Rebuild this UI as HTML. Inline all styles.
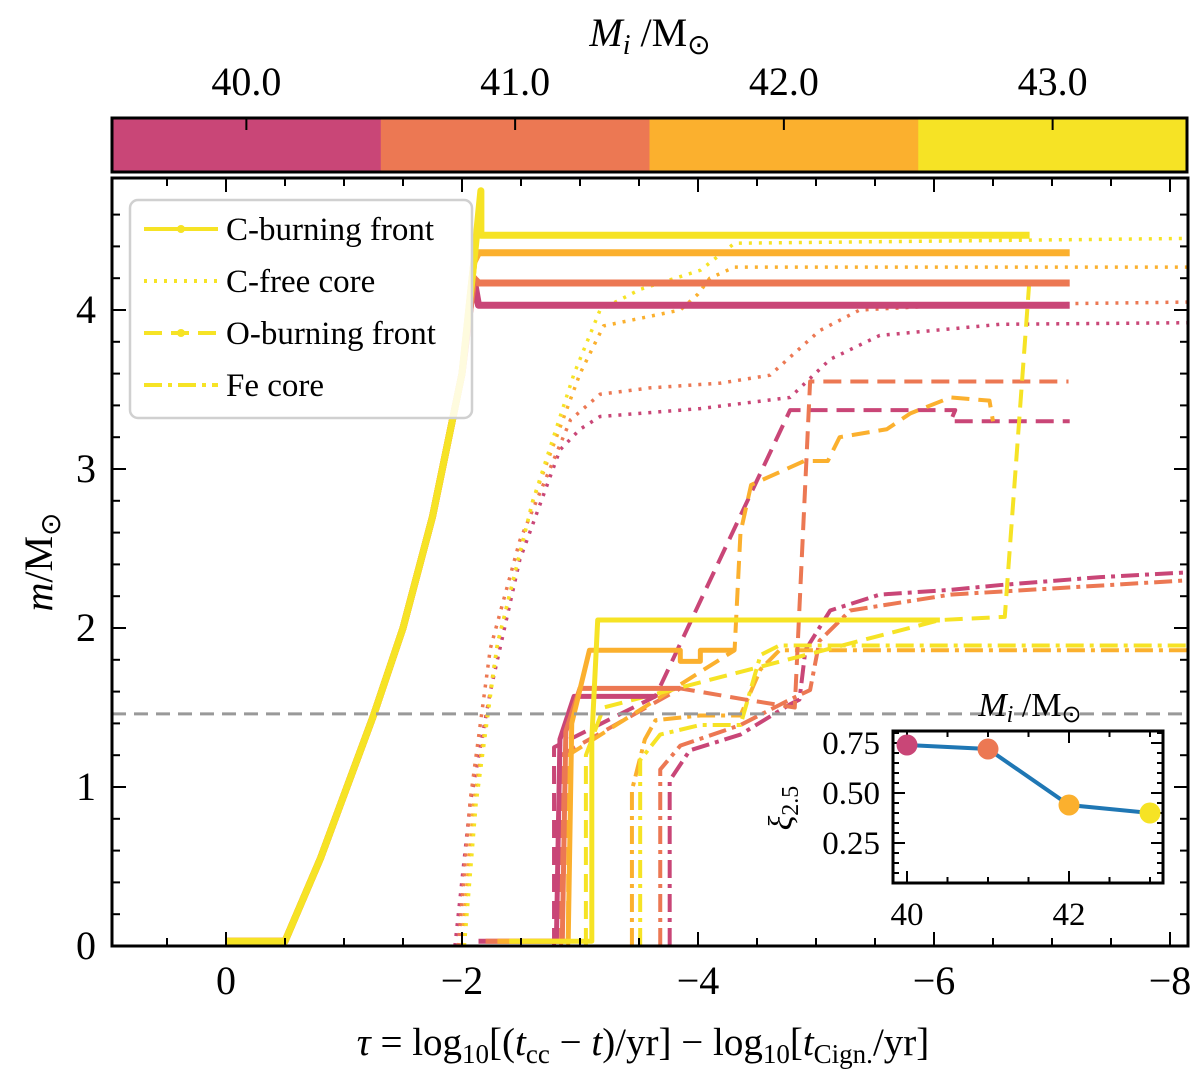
<!DOCTYPE html>
<html><head><meta charset="utf-8"><style>
html,body{margin:0;padding:0;background:#fff;}
svg{display:block;font-family:"Liberation Serif",serif;}
</style></head><body>
<svg id="chart" width="1200" height="1080" viewBox="0 0 1200 1080" xmlns="http://www.w3.org/2000/svg">
<g id="cbar"></g>
<g id="plot"></g>
<g id="inset"></g>
</svg>
<script>
const masses = [40, 41, 42, 43];
const colors = ["#c94677", "#ec7853", "#fbb02e", "#f6e325"];
const xTicks = [0, 2, 4, 6, 8];
const xTickLabels = ["0", "\u22122", "\u22124", "\u22126", "\u22128"];
const yTicks = [0, 1, 2, 3, 4];
const xiValues = [0.74, 0.72, 0.44, 0.40];
const xiTicks = [0.25, 0.5, 0.75];
const xiTickLabels = ["0.25", "0.50", "0.75"];
const insetXTicks = [40, 42];
const compactness = 1.46;

// series in data units: [ -tau, m ]
const cBurn = [
 [[0,0.03],[0.5,0.03],[0.8,0.55],[1.0,0.95],[1.25,1.45],[1.5,2.0],[1.75,2.7],[2.0,3.6],[2.1,4.2],[2.14,4.03],[7.15,4.03]],
 [[0,0.03],[0.5,0.03],[0.8,0.55],[1.0,0.95],[1.25,1.45],[1.5,2.0],[1.75,2.7],[2.0,3.6],[2.1,4.2],[2.14,4.17],[7.15,4.17]],
 [[0,0.03],[0.5,0.03],[0.8,0.55],[1.0,0.95],[1.25,1.45],[1.5,2.0],[1.75,2.7],[2.0,3.6],[2.1,4.3],[2.14,4.36],[7.15,4.36]],
 [[0,0.03],[0.5,0.03],[0.8,0.55],[1.0,0.95],[1.25,1.45],[1.5,2.0],[1.75,2.7],[2.0,3.6],[2.1,4.3],[2.16,4.75],[2.16,4.47],[6.81,4.47]]
];
const cBurn2 = [
 [[2.14,0.03],[2.8,0.03],[2.83,1.3],[2.95,1.57],[3.64,1.57]],
 [[2.2,0.03],[2.85,0.03],[2.88,1.35],[3.0,1.62],[3.85,1.62]],
 [[2.3,0.03],[2.9,0.03],[2.93,1.4],[3.08,1.86],[3.85,1.86],[3.85,1.79],[4.02,1.79],[4.02,1.86],[4.31,1.86]],
 [[2.4,0.03],[3.1,0.03],[3.1,1.3],[3.15,2.05],[6.05,2.05]]
];
const cFree = [
 [[1.94,0],[2.07,0.9],[2.24,1.6],[2.49,2.43],[2.83,3.12],[3.0,3.25],[3.17,3.33],[4.02,3.38],[4.78,3.45],[5.12,3.69],[5.54,3.84],[6.56,3.91],[8.15,3.92]],
 [[1.97,0],[2.07,0.92],[2.24,1.87],[2.49,2.55],[2.92,3.31],[3.17,3.47],[3.59,3.51],[4.19,3.54],[4.61,3.59],[5.03,3.87],[5.37,4.0],[6.14,4.03],[8.15,4.05]],
 [[2.0,0],[2.1,0.9],[2.3,1.9],[2.6,2.8],[3.0,3.6],[3.2,3.9],[3.85,4.0],[4.0,4.1],[4.1,4.2],[4.31,4.27],[8.15,4.27]],
 [[2.02,0],[2.12,0.9],[2.3,1.9],[2.6,2.8],[2.95,3.6],[3.17,4.0],[3.51,4.13],[4.02,4.25],[4.31,4.42],[8.15,4.45]]
];
const oBurn = [
 [[2.78,0],[2.78,1.25],[3.64,1.57],[4.78,3.37],[6.18,3.37],[6.14,3.3],[7.15,3.3]],
 [[2.84,0],[2.84,1.2],[3.85,1.62],[4.4,1.55],[4.82,1.5],[4.95,3.55],[7.14,3.55]],
 [[2.9,0],[2.9,1.2],[4.31,1.86],[4.36,2.6],[4.45,2.9],[4.6,2.95],[4.9,3.05],[5.1,3.05],[5.2,3.2],[5.6,3.25],[5.8,3.35],[6.14,3.45],[6.47,3.43],[6.5,3.3]],
 [[3.05,0],[3.05,1.2],[3.2,1.5],[6.05,2.05],[6.6,2.07],[6.81,4.2]]
];
const feCore = [
 [[3.76,0],[3.76,1.04],[3.93,1.23],[4.36,1.33],[4.78,1.52],[4.86,1.55],[4.91,1.86],[5.12,2.11],[5.54,2.21],[6.14,2.24],[6.56,2.27],[7.41,2.32],[8.15,2.35]],
 [[3.68,0],[3.68,1.11],[3.85,1.26],[4.36,1.39],[4.78,1.55],[4.95,1.61],[5.03,1.92],[5.29,2.11],[6.14,2.21],[8.15,2.3]],
 [[3.44,0],[3.44,0.98],[3.55,1.3],[3.64,1.42],[4.02,1.45],[4.36,1.45],[4.53,1.74],[4.69,1.86],[8.15,1.86]],
 [[3.51,0],[3.51,1.17],[3.68,1.33],[4.02,1.39],[4.36,1.39],[4.53,1.83],[4.69,1.89],[8.15,1.89]]
];

const NS = "http://www.w3.org/2000/svg";
function mk(tag, attrs, parent){const e=document.createElementNS(NS,tag);for(const k in attrs)e.setAttribute(k,attrs[k]);parent.appendChild(e);return e;}
const L=112,R=1188,T=178,B=946;
const xs=v=>226+118*v;
const ys=v=>946-159*v;
const plot=document.getElementById('plot');
const cp=mk('clipPath',{id:'clip'},plot);mk('rect',{x:L,y:T,width:R-L,height:B-T},cp);
const lines=mk('g',{'clip-path':'url(#clip)'},plot);



function drawSet(set,dash,width,name){
 set.forEach((pts,i)=>{
  const p=mk('polyline',{points:pts.map(q=>xs(q[0])+','+ys(q[1])).join(' '),fill:'none',stroke:colors[i],'stroke-width':width,'stroke-dasharray':dash,'stroke-linejoin':'round'},lines);
  
  
 });
}
drawSet(cFree,'3,7',3.5,'c-free-core');
drawSet(feCore,'18,6,4,6',4,'fe-core');
drawSet(oBurn,'18,9',4,'o-burning-front');
drawSet(cBurn2,'none',5,'c-burning-front-late');
drawSet(cBurn,'none',7,'c-burning-front');

const gl=mk('line',{x1:L,x2:R,y1:ys(compactness),y2:ys(compactness),stroke:'#999','stroke-width':3,'stroke-dasharray':'14,8'},plot);



const fr=mk('rect',{x:L,y:T,width:R-L,height:B-T,fill:'none',stroke:'#000','stroke-width':3},plot);


for(let v=-0.5;v<=8.2;v+=0.5){const x=xs(v);if(x<L||x>R)continue;const maj=Math.abs(v%2)<1e-6;const len=maj?14:8;
 mk('line',{x1:x,x2:x,y1:B,y2:B-len,stroke:'#000','stroke-width':2},plot);mk('line',{x1:x,x2:x,y1:T,y2:T+len,stroke:'#000','stroke-width':2},plot);}
for(let v=0;v<=4.8;v+=0.2){const y=ys(v);const maj=Math.abs(v-Math.round(v))<1e-6;const len=maj?14:8;
 mk('line',{x1:L,x2:L+len,y1:y,y2:y,stroke:'#000','stroke-width':2},plot);mk('line',{x1:R,x2:R-len,y1:y,y2:y,stroke:'#000','stroke-width':2},plot);}
xTicks.forEach((v,i)=>{const t=mk('text',{x:xs(v),y:994,'text-anchor':'middle','font-size':40},plot);t.textContent=xTickLabels[i];
 
 });
yTicks.forEach(v=>{const t=mk('text',{x:96,y:ys(v)+13,'text-anchor':'end','font-size':40},plot);t.textContent=String(v);
 
 });
</script>
<script>
(function(){
const NS="http://www.w3.org/2000/svg";
function mk(tag,attrs,parent){const e=document.createElementNS(NS,tag);for(const k in attrs)e.setAttribute(k,attrs[k]);parent.appendChild(e);return e;}
const plot=document.getElementById('plot');
const xl=mk('text',{x:643,y:1055,'text-anchor':'middle','font-size':39},plot);
xl.innerHTML='<tspan font-style="italic">τ</tspan> = log<tspan font-size="27" dy="8">10</tspan><tspan dy="-8">[(</tspan><tspan font-style="italic">t</tspan><tspan font-size="27" dy="8">cc</tspan><tspan dy="-8"> − </tspan><tspan font-style="italic">t</tspan>)/yr] − log<tspan font-size="27" dy="8">10</tspan><tspan dy="-8">[</tspan><tspan font-style="italic">t</tspan><tspan font-size="27" dy="8">Cign.</tspan><tspan dy="-8">/yr]</tspan>';


const yl=mk('text',{x:0,y:0,'text-anchor':'middle','font-size':40,transform:'translate(52,562) rotate(-90)'},plot);
yl.innerHTML='<tspan font-style="italic">m</tspan>/M<tspan font-size="28" dy="8">⊙</tspan>';



const lg=mk('g',{},plot);


mk('rect',{x:130,y:200,width:342,height:218,rx:8,fill:'rgba(255,255,255,0.85)',stroke:'#d0d0d0','stroke-width':2.5},lg);
const ent=[['C-burning front','none'],['C-free core','3,7'],['O-burning front','18,9'],['Fe core','18,6,4,6']];
ent.forEach((e,i)=>{const y=229+i*52;
 const g=mk('g',{},lg);
 
 
 mk('line',{x1:144,x2:218,y1:y,y2:y,stroke:'#f6e325','stroke-width':4,'stroke-dasharray':e[1]},g);
 if(i==0||i==2)mk('circle',{cx:181,cy:y,r:4,fill:'#f6e325'},g);
 const t=mk('text',{x:226,y:y+11,'font-size':33},g);t.textContent=e[0];});

const cb=document.getElementById('cbar');
for(let i=0;i<masses.length;i++){const w=(1187-112)/4;
 const r=mk('rect',{x:112+i*w,y:118,width:w+0.5,height:54,fill:colors[i]},cb);
 
 
 const cx=112+(i+0.5)*w;
 mk('line',{x1:cx,x2:cx,y1:118,y2:130,stroke:'#000','stroke-width':2},cb);
 const t=mk('text',{x:cx,y:95,'text-anchor':'middle','font-size':40},cb);t.textContent=masses[i].toFixed(1);
 
 }
mk('rect',{x:112,y:118,width:1075,height:54,fill:'none',stroke:'#000','stroke-width':3},cb);
const ct=mk('text',{x:650,y:46,'text-anchor':'middle','font-size':40},cb);
ct.innerHTML='<tspan font-style="italic">M</tspan><tspan font-style="italic" font-size="28" dy="8">i</tspan><tspan dy="-8"> /M</tspan><tspan font-size="28" dy="8">⊙</tspan>';



const ins=document.getElementById('inset');
const iL=893,iR=1163,iT=731,iB=883;
const ix=v=>907+81*(v-40), iy=v=>743-200*(v-0.75);
mk('rect',{x:iL,y:iT,width:iR-iL,height:iB-iT,fill:'#fff'},ins);
for(let v=40;v<=43.01;v+=0.5){const x=ix(v);const maj=Math.abs(v%2)<1e-6;const len=maj?12:6;
 mk('line',{x1:x,x2:x,y1:iB,y2:iB-len,stroke:'#000','stroke-width':2},ins);mk('line',{x1:x,x2:x,y1:iT,y2:iT+len,stroke:'#000','stroke-width':2},ins);}
for(let v=0.05;v<=0.81;v+=0.05){const y=iy(v);const maj=Math.abs((v*4)-Math.round(v*4))<1e-6;const len=maj?12:6;
 mk('line',{x1:iL,x2:iL+len,y1:y,y2:y,stroke:'#000','stroke-width':2},ins);mk('line',{x1:iR,x2:iR-len,y1:y,y2:y,stroke:'#000','stroke-width':2},ins);}
const pl=mk('polyline',{points:xiValues.map((v,i)=>ix(masses[i])+','+iy(v)).join(' '),fill:'none',stroke:'#1f77b4','stroke-width':4},ins);


xiValues.forEach((v,i)=>{const c=mk('circle',{cx:ix(masses[i]),cy:iy(v),r:10.5,fill:colors[i]},ins);
 
 });
mk('rect',{x:iL,y:iT,width:iR-iL,height:iB-iT,fill:'none',stroke:'#000','stroke-width':3},ins);
xiTicks.forEach((v,i)=>{const t=mk('text',{x:880,y:iy(v)+11,'text-anchor':'end','font-size':33},ins);t.textContent=xiTickLabels[i];
 
 });
insetXTicks.forEach(v=>{const t=mk('text',{x:ix(v),y:925,'text-anchor':'middle','font-size':33},ins);t.textContent=String(v);
 
 });
const it=mk('text',{x:1030,y:716,'text-anchor':'middle','font-size':34},ins);
it.innerHTML='<tspan font-style="italic">M</tspan><tspan font-style="italic" font-size="24" dy="6">i</tspan><tspan dy="-6"> /M</tspan><tspan font-size="24" dy="6">⊙</tspan>';


const iy2=mk('text',{x:0,y:0,'text-anchor':'middle','font-size':34,transform:'translate(792,808) rotate(-90)'},ins);
iy2.innerHTML='<tspan font-style="italic">ξ</tspan><tspan font-size="24" dy="6">2.5</tspan>';


})();
</script>
</body></html>
